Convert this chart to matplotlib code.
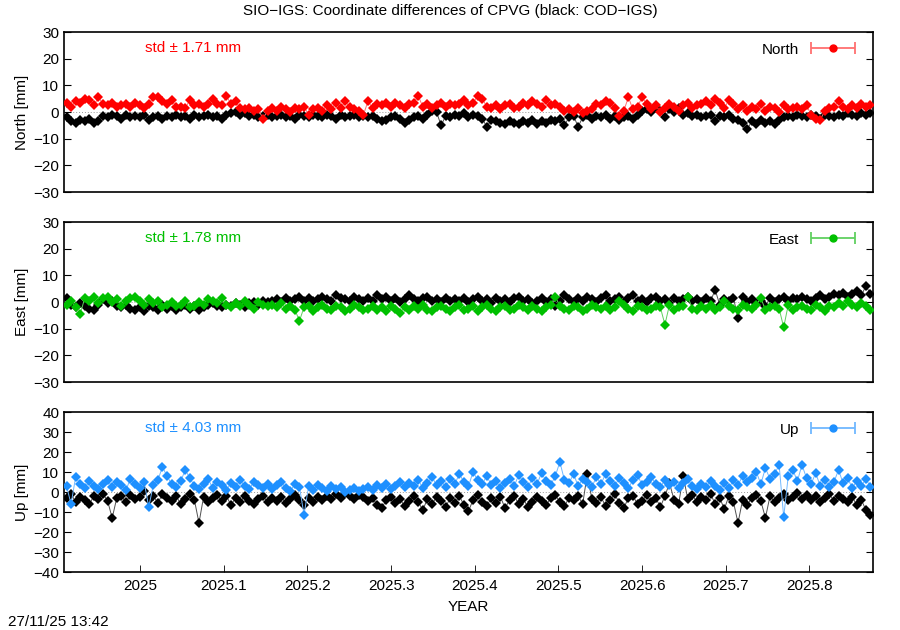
import numpy as np
import matplotlib
matplotlib.use("Agg")
import matplotlib.pyplot as plt
from matplotlib.container import ErrorbarContainer
from matplotlib.legend_handler import HandlerErrorbar

plt.rcParams["font.family"] = ["Liberation Sans", "DejaVu Sans"]
plt.rcParams["font.size"] = 11

# time span of the series (decimal year)
T_START = 2024.912
T_END = 2025.873

# North [mm]
north_sio = [3.5, 2.0, 4.0, 3.5, 5.0, 4.5, 2.5, 5.5,
             3.0, 2.5, 3.5, 2.0, 2.5, 3.0, 2.0, 3.5,
             2.5, 1.5, 3.0, 5.5, 5.5, 4.0, 3.0, 4.5, 2.0,
             2.0, 1.5, 4.5, 2.5, 3.0, 2.0, 3.0, 5.0, 3.0, 2.5, 6.0,
             3.0, 4.0, 1.5, 1.0, 1.5, 0.5, 1.0, -2.5, 0.5,
             1.5, 0.5, 2.0, 1.0, 0.0, 1.5, 1.0, 2.0, -1.0, 1.0, 1.5,
             0.5, 2.5, 1.0, 3.5, 1.5, 4.0, 2.0, 1.0, 0.5, -1.0,
             4.0, 1.5, 3.0, 2.5, 3.5, 2.0, 3.5, 2.5, 1.5, 3.0,
             3.5, 6.0, 2.0, 3.0, 1.5, 2.5, 3.5, 2.0, 3.0, 2.5,
             3.0, 4.5, 2.5, 3.5, 6.0, 5.0, 2.0, 1.5, 2.5, 1.0,
             2.5, 3.0, 1.5, 2.0, 3.5, 2.5, 4.0, 3.0, 2.0, 4.5, 2.5,
             3.0, 2.0, 0.5, 1.0, 0.0, 1.5, -0.5, 0.5, 1.0, 3.0,
             2.5, 4.0, 3.5, 1.5, -1.5, 0.5, 5.5, 1.0, 2.0, 5.5, 3.0,
             1.0, 2.5, 0.0, 1.5, 3.0, 2.0, 0.5, 2.5, 3.5, 1.5, 2.5,
             3.0, 4.0, 2.5, 5.0, 3.5, 1.5, 4.5, 3.0, 1.0, 2.5, 0.5,
             2.0, 1.0, 3.0, 0.5, 2.0, 1.5, 0.0, 2.5, 1.0, 1.5, 2.0,
             1.0, 2.5, -1.0, -2.5, -3.0, 0.5, 1.5, 2.0,
             4.0, 2.0, 1.0, 2.5, 1.5, 3.0, 2.0, 2.5]
north_cod = [-2.0, -3.5, -4.0, -3.0, -3.5, -2.5, -4.0, -3.5,
             -1.5, -2.0, -1.0, -1.5, -2.5, -1.0, -2.0, -1.5,
             -2.0, -1.0, -3.0, -2.0, -1.5, -2.5, -1.5, -2.0, -1.0,
             -2.0, -1.5, -2.5, -1.0, -2.0, -1.5, -1.0, -2.0, -1.5, -2.5, -1.0,
             -0.5, 0.0, -1.0, -0.5, -1.5, -1.0, -2.0, -1.5, -1.0,
             -2.0, -1.5, -1.0, -2.0, -1.5, -2.5, -1.0, -1.5, -2.0, -1.0, -1.5,
             -2.0, -1.0, -1.5, -2.5, -1.0, -2.0, -1.5, -1.0, -2.0, -1.5,
             -2.0, -1.5, -2.5, -3.5, -3.0, -2.0, -1.5, -2.5, -4.0, -3.0,
             -2.0, -1.5, -2.5, -1.0, 0.5, 0.0, -5.0, -1.5, -2.0, -1.0,
             -1.5, -0.5, -2.0, -1.0, -1.5, -2.5, -5.5, -3.0, -3.5, -4.0,
             -4.5, -3.5, -4.0, -4.5, -3.5, -4.0, -3.0, -4.5, -3.5, -4.0, -3.0,
             -3.5, -2.5, -5.0, -2.0, -1.5, -5.5, -2.0, -1.0, -2.5, -1.5,
             -2.0, -1.0, -2.5, -1.5, -3.0, -2.0, -1.5, -2.5, -1.0, 0.5, 1.0,
             0.0, 1.5, 0.5, -2.0, 1.0, 0.0, 1.5, -1.0, -0.5, -1.5, -1.0,
             -2.0, -1.5, -1.0, -3.5, -1.5, -2.0, -1.0, -2.5, -3.0, -4.0, -6.5,
             -3.5, -4.5, -3.0, -4.0, -3.5, -4.5, -3.0, -2.0, -1.5, -2.0, -1.0,
             -1.5, -2.0, -1.0, -1.5, -2.5, -1.0, -1.5, -2.0,
             -1.0, -1.5, -0.5, -1.0, -1.5, -0.5, -1.0, -0.5]

# East [mm]
east_sio = [-1.0, 0.5, -2.0, -4.5, 1.5, 0.5, 2.0, -0.5,
            1.5, 2.0, 0.0, 1.0, -1.5, 0.5, 1.5, 2.0,
            0.5, -1.0, 1.0, -0.5, 0.5, -2.0, -1.0, 0.0, -1.5,
            -1.0, 0.5, -2.0, -1.5, 0.0, -1.0, 1.0, 0.5, -0.5, 1.5, -1.0,
            -2.0, -0.5, -1.5, 0.5, -1.0, -2.5, 0.0, -1.0, -1.5,
            -1.0, -2.0, -0.5, -2.5, -1.5, -3.0, -7.0, -2.0, -1.5, -3.5, -2.0,
            -1.0, -2.5, -3.0, -1.5, -2.0, -3.5, -2.5, -1.0, -2.0, -3.0,
            -2.5, -1.5, -3.0, -2.0, -3.5, -1.5, -2.5, -4.0, -2.0, -3.0,
            -1.5, -2.5, -1.0, -3.0, -3.5, -2.0, -1.5, -2.5, -3.5, -2.0,
            -1.0, -3.0, -2.5, -1.5, -3.5, -2.0, -1.0, -2.5, -3.5, -2.0,
            -1.5, -3.0, -2.5, -1.0, -2.0, -3.0, -1.5, -2.5, -3.5, -2.0, -1.0,
            2.0, -1.5, -2.5, -3.0, -1.5, -2.0, -3.5, -2.5, -1.0, -2.0,
            -2.5, -1.5, -3.0, -2.0, 0.5, -1.0, -2.5, -3.5, -1.5, -2.0, -3.0,
            -2.5, -1.5, -2.0, -8.5, -1.0, -3.0, -2.0, -1.5, 2.0, -2.5, -3.0,
            -1.5, -2.5, -1.0, -3.0, -2.0, 0.5, -1.5, -2.5, -3.0, -1.0, -2.0,
            -2.5, -1.0, 1.5, -3.0, -2.0, -1.5, -2.5, -9.5, -1.0, -3.0, -2.0,
            -1.5, -2.5, -3.0, -1.0, -2.0, -3.5, -1.5, -2.0,
            -0.5, -1.5, 0.5, -1.0, -2.0, -0.5, -1.5, -3.0]
east_cod = [1.5, -1.0, -2.0, -0.5, -1.5, -2.5, -3.0, -1.0,
            1.0, -0.5, 0.5, -1.5, -2.0, -1.0, -2.5, -3.0,
            -2.0, -3.5, -1.5, -2.0, -3.0, -1.0, -2.5, -1.5, -3.0,
            -2.0, -1.0, -2.5, -1.5, -3.0, -2.0, -1.0, -0.5, -1.5, -2.0, -1.0,
            -1.5, -0.5, -1.0, -2.0, -0.5, 0.0, -1.0, 0.5, 0.0,
            0.5, 1.0, 0.0, 1.5, 0.5, 1.0, 2.0, 0.5, 1.5, 0.5, 1.0,
            2.0, 1.0, 0.5, 2.5, 1.5, 1.0, 0.5, 2.0, 1.0, 0.5,
            1.5, 0.5, 2.5, 1.0, 2.0, 0.5, 1.5, 0.0, 1.0, 2.5,
            1.0, 0.5, 1.5, 2.0, 0.5, 1.0, 0.0, 1.5, 0.5, 1.0,
            0.5, 1.5, 0.0, 1.0, 2.0, 0.5, 1.0, -0.5, 1.5, 0.5,
            1.0, 0.0, 1.5, 2.0, 0.5, 1.0, -0.5, 0.5, 1.5, 0.0, 1.0,
            -1.5, 0.5, 2.5, 1.0, 0.0, 1.5, 0.5, 2.0, 1.0, 0.0,
            1.5, 2.5, 0.5, 1.0, 2.0, 0.0, 1.5, 2.5, 0.5, 1.0, 0.0,
            1.5, 2.0, 0.5, 1.0, -0.5, 1.5, 0.5, 1.0, 2.0, 0.5, 1.0,
            0.0, 1.5, 0.5, 4.5, -1.0, 1.0, 0.5, 1.5, -6.0, 2.0, 0.0,
            1.0, -0.5, 0.5, -1.5, 1.5, 0.0, 1.0, 2.0, 0.5, 1.5, 1.0,
            2.0, 1.0, 0.5, 1.5, 2.5, 1.0, 2.0, 3.0,
            2.5, 3.5, 2.0, 3.0, 4.0, 2.5, 6.0, 3.0]

# Up [mm]
up_sio = [3.0, -6.0, 7.5, 4.0, 2.0, 5.5, 3.0, 1.5,
          4.0, 6.0, 2.5, 5.0, 3.5, 1.0, 6.5, 4.0,
          2.0, 5.0, -7.5, 3.5, 6.0, 12.5, 8.0, 4.0, 2.5,
          5.5, 11.0, 7.0, 3.0, 1.5, 4.0, 6.5, 2.0, 5.0, 3.5, 1.0,
          4.5, 2.5, 6.0, 3.0, 1.5, 5.0, 3.5, 2.0, 4.0,
          1.5, 3.5, 5.0, 2.0, 0.5, 4.0, 2.5, -11.5, 3.0, 1.0, 3.5,
          2.0, 0.5, 3.0, 1.5, 2.5, 0.0, 1.0, 2.0, 0.5, 1.5,
          2.5, 1.0, 3.5, 2.0, 4.0, 1.5, 3.0, 5.0, 2.5, 4.5,
          3.0, 6.0, 2.0, 4.5, 7.5, 3.5, 5.5, 2.5, 6.5, 4.0,
          9.0, 5.0, 3.0, 10.0, 6.0, 4.0, 8.0, 3.5, 5.5, 2.0,
          4.5, 6.5, 3.0, 8.5, 5.0, 2.5, 7.0, 4.0, 9.5, 5.5, 3.5,
          8.0, 15.0, 6.0, 4.5, 9.0, 3.0, 6.5, 5.0, 2.5, 7.5,
          4.0, 9.0, 5.5, 3.0, 7.0, 4.5, 2.0, 6.0, 8.5, 3.5, 5.0,
          7.5, 4.0, 2.5, 6.0, 3.5, 5.0, 2.0, 4.5, 6.5, 3.0, 1.5,
          4.0, 2.5, 5.5, 3.0, 1.0, 4.5, 2.0, 6.0, 3.5, 8.0, 5.0,
          7.0, 10.0, 4.0, 12.0, 6.5, 9.0, 13.5, -12.5, 8.0, 11.0, 5.5,
          13.5, 7.0, 4.0, 9.5, 3.0, 6.0, 2.5, 5.0,
          11.0, 4.5, 7.0, 2.0, 5.5, 3.0, 6.5, 2.5]
up_cod = [-3.0, -1.0, -5.0, -2.5, -4.0, -6.0, -2.0, -3.5,
          -1.0, -4.5, -13.0, -3.0, -2.0, -5.0, -1.5, -3.5,
          -2.5, 0.5, -4.0, -2.0, -5.5, -1.0, -3.0, -4.5, -2.0,
          -6.0, -3.5, -1.0, -4.0, -15.5, -2.5, -5.0, -3.0, -1.5, -4.5, -2.0,
          -6.5, -3.0, -5.0, -2.0, -4.5, -6.0, -3.5, -2.0, -5.0,
          -3.0, -4.5, -2.5, -5.5, -3.5, -1.5, -4.0, -6.5, -3.0, -5.0, -2.5,
          -4.0, -2.0, -3.5, -1.0, -3.0, -0.5, -2.0, -3.5, -1.5, -2.5,
          -4.5, -3.0, -6.5, -8.0, -4.0, -2.5, -5.5, -3.5, -7.0, -4.5,
          -2.0, -5.0, -9.0, -3.5, -6.0, -2.5, -4.5, -7.5, -3.0, -5.5,
          -2.0, -6.5, -9.5, -4.0, -1.5, -5.0, -7.0, -3.0, -5.5, -2.5,
          -8.0, -4.0, -2.0, -6.0, -3.5, -7.5, -5.0, -2.5, -4.5, -6.5, -3.0,
          -1.5, -5.0, -7.0, -3.0, -4.0, -2.0, -6.0, 9.0, -3.5, -5.5,
          -2.5, -7.0, -4.0, -1.0, -5.5, -8.0, -3.0, -2.0, -6.0, -4.5, -1.5,
          -5.0, -3.0, -7.5, -2.0, 4.5, -4.0, -6.0, 8.0, -3.5, -1.5, -5.0,
          -2.5, -4.0, -1.0, -6.0, -3.0, -8.5, -2.0, -5.0, -15.5, -4.0, -6.5,
          -3.0, -1.5, -4.5, -13.0, -2.0, -5.0, -3.0, -1.0, -4.0, -2.5, -0.5,
          -3.5, -1.5, -4.0, -2.0, -5.0, -3.0, -1.0, -4.5,
          -2.0, -3.5, -5.0, -2.5, -6.5, -4.0, -9.0, -11.5]

panel_names = ["North", "East", "Up"]
panel_std = ["1.71", "1.78", "4.03"]
panel_colors = ["#ff0000", "#00c000", "#1e90ff"]
line_colors = ["#ff7070", "#60d060", "#70b8ff"]
panel_ylim = [(-30, 30), (-30, 30), (-40, 40)]
x_ticks = [2025.0, 2025.1, 2025.2, 2025.3, 2025.4, 2025.5, 2025.6, 2025.7, 2025.8]
x_ticklabels = ["2025", "2025.1", "2025.2", "2025.3", "2025.4", "2025.5", "2025.6", "2025.7", "2025.8"]

sio_data = [north_sio, east_sio, up_sio]
cod_data = [north_cod, east_cod, up_cod]

fig = plt.figure(figsize=(9, 6.3), dpi=100)
bottoms = [1 - 192 / 630, 1 - 382 / 630, 1 - 572 / 630]
left, width, height = 64 / 900, 809 / 900, 160 / 630

for k in range(3):
    ax = fig.add_axes([left, bottoms[k], width, height])
    sio = np.array(sio_data[k])
    cod = np.array(cod_data[k])
    xs = np.linspace(T_START, T_END, len(sio))
    xc = np.linspace(T_START, T_END, len(cod))

    ax.axhline(0, color="#999999", lw=0.7, ls=(0, (1, 2)), zorder=1)
    ax.plot(xc, cod, color="#505050", lw=0.7, zorder=2)
    ax.plot(xc, cod, "D", color="black", ms=4.6, mew=0, zorder=3)
    ax.plot(xs, sio, color=line_colors[k], lw=0.7, zorder=4)
    ax.plot(xs, sio, "D", color=panel_colors[k], ms=4.6, mew=0, zorder=5)

    ax.errorbar([np.nan], [np.nan], xerr=[1], fmt="o", color=panel_colors[k],
                ecolor=line_colors[k], ms=5, capsize=4, elinewidth=1.3,
                capthick=1.3, label=panel_names[k])
    ax.legend(loc="upper right", bbox_to_anchor=(0.992, 1.0), frameon=False,
              markerfirst=False, handlelength=3.0, handletextpad=0.7,
              borderaxespad=0.3, fontsize=11,
              handler_map={ErrorbarContainer: HandlerErrorbar(xerr_size=1.45)})

    ax.text(0.1, 0.9, "std \u00b1 " + panel_std[k] + " mm", color=panel_colors[k],
            transform=ax.transAxes, ha="left", va="center", fontsize=11)

    ax.set_xlim(2024.909, 2025.876)
    ax.set_ylim(*panel_ylim[k])
    lo, hi = panel_ylim[k]
    ax.set_yticks(np.arange(lo, hi + 1, 10))
    ax.set_ylabel(panel_names[k] + " [mm]", fontsize=11, labelpad=3)
    ax.tick_params(axis="y", direction="in", right=True, length=5, width=0.8)
    ax.set_xticks(x_ticks)
    if k == 2:
        ax.set_xticklabels(x_ticklabels)
        ax.tick_params(axis="x", direction="in", length=5, width=0.6, pad=5)
        ax.set_xlabel("YEAR", fontsize=11, labelpad=5)
    else:
        ax.tick_params(axis="x", length=0, labelbottom=False)
    for s in ax.spines.values():
        s.set_linewidth(1.2)

fig.text(0.5, 1 - 11 / 630, "SIO\u2212IGS: Coordinate differences of CPVG (black: COD\u2212IGS)",
         ha="center", va="center", fontsize=11)
fig.text(8 / 900, 1 - 622 / 630, "27/11/25 13:42", ha="left", va="center", fontsize=11)

fig.savefig("out.png", dpi=100)
